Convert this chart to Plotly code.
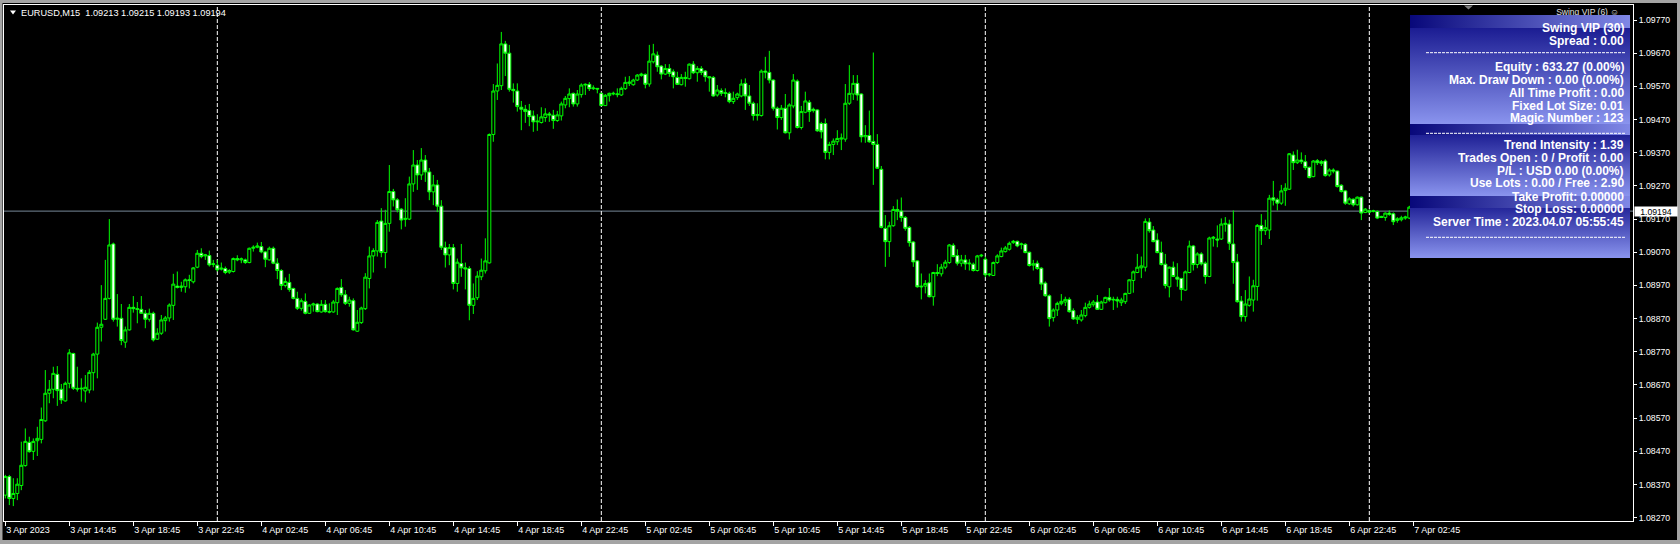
import plotly.graph_objects as go

# ---------------- data (EURUSD M15, bars from 3 Apr 2023 10:45) ----------------
open_ = [
1.08338,1.08394,1.08328,1.08343,1.08367,1.08427,1.08497,1.08470,1.08502,1.08506,
1.08562,1.08645,1.08657,1.08702,1.08657,1.08622,1.08675,1.08765,1.08660,1.08658,
1.08652,1.08655,1.08707,1.08763,1.08844,1.08868,1.08931,1.09095,1.08868,1.08871,
1.08799,1.08836,1.08904,1.08900,1.08898,1.08886,1.08868,1.08886,1.08808,1.08826,
1.08864,1.08872,1.08910,1.08968,1.08964,1.08966,1.08987,1.08981,1.09025,1.09067,
1.09059,1.09060,1.09033,1.09031,1.09019,1.09021,1.09010,1.09012,1.09051,1.09047,
1.09047,1.09039,1.09082,1.09085,1.09087,1.09071,1.09047,1.09082,1.09037,1.09015,
1.08970,1.08979,1.08961,1.08931,1.08901,1.08922,1.08886,1.08911,1.08914,1.08890,
1.08913,1.08891,1.08890,1.08918,1.08964,1.08942,1.08916,1.08924,1.08832,1.08858,
1.08900,1.08991,1.09059,1.09074,1.09164,1.09069,1.09157,1.09253,1.09228,1.09200,
1.09169,1.09170,1.09276,1.09333,1.09303,1.09348,1.09312,1.09252,1.09273,1.09209,
1.09084,1.09062,1.09084,1.08976,1.09036,1.09023,1.09021,1.08910,1.08933,1.08996,
1.09014,1.09038,1.09425,1.09556,1.09572,1.09698,1.09670,1.09561,1.09556,1.09507,
1.09501,1.09497,1.09481,1.09463,1.09461,1.09476,1.09487,1.09483,1.09467,1.09481,
1.09514,1.09533,1.09549,1.09517,1.09545,1.09574,1.09576,1.09563,1.09564,1.09549,
1.09512,1.09542,1.09547,1.09545,1.09544,1.09563,1.09579,1.09575,1.09589,1.09603,
1.09606,1.09577,1.09644,1.09664,1.09631,1.09607,1.09624,1.09614,1.09597,1.09575,
1.09597,1.09593,1.09637,1.09611,1.09624,1.09616,1.09599,1.09597,1.09544,1.09557,
1.09551,1.09549,1.09524,1.09536,1.09541,1.09579,1.09541,1.09519,1.09482,1.09482,
1.09616,1.09612,1.09589,1.09504,1.09476,1.09504,1.09430,1.09511,1.09586,1.09446,
1.09492,1.09522,1.09501,1.09499,1.09458,1.09458,1.09371,1.09395,1.09403,1.09411,
1.09411,1.09519,1.09547,1.09579,1.09547,1.09418,1.09422,1.09404,1.09395,1.09320,
1.09142,1.09102,1.09150,1.09199,1.09194,1.09175,1.09145,1.09101,1.09044,1.08968,
1.08968,1.08978,1.08936,1.09009,1.09005,1.09025,1.09039,1.09091,1.09060,1.09037,
1.09047,1.09035,1.09034,1.09015,1.09059,1.09049,1.09002,1.09000,1.09039,1.09057,
1.09072,1.09079,1.09099,1.09103,1.09093,1.09094,1.09070,1.09031,1.09037,1.09022,
1.08977,1.08939,1.08873,1.08896,1.08915,1.08920,1.08928,1.08894,1.08868,1.08866,
1.08879,1.08904,1.08912,1.08920,1.08898,1.08918,1.08934,1.08926,1.08928,1.08918,
1.08921,1.08946,1.08985,1.09009,1.09023,1.09025,1.09161,1.09137,1.09107,1.09069,
1.09034,1.08966,1.09025,1.08995,1.08991,1.08956,1.09009,1.09089,1.09033,1.09065,
1.09037,1.08997,1.09112,1.09110,1.09110,1.09154,1.09155,1.09095,1.09041,1.08923,
1.08876,1.08910,1.08926,1.08967,1.09151,1.09135,1.09137,1.09234,1.09228,1.09218,
1.09256,1.09260,1.09363,1.09340,1.09348,1.09343,1.09326,1.09298,1.09346,1.09343,
1.09345,1.09303,1.09318,1.09315,1.09272,1.09255,1.09216,1.09230,1.09213,1.09236,
1.09190,1.09195,1.09193,1.09193,1.09178,1.09175,1.09188,1.09186,1.09166,1.09168,
1.09173,1.09173,1.09213]

high_ = [
1.08399,1.08399,1.08389,1.08389,1.08499,1.08539,1.08514,1.08509,1.08544,1.08602,
1.08715,1.08685,1.08725,1.08727,1.08673,1.08680,1.08778,1.08767,1.08725,1.08690,
1.08700,1.08715,1.08767,1.08858,1.08971,1.09047,1.09170,1.09099,1.08944,1.08914,
1.08846,1.08914,1.08938,1.08920,1.08938,1.08896,1.08900,1.08891,1.08841,1.08881,
1.08878,1.08916,1.09005,1.09012,1.08981,1.08991,1.09002,1.09025,1.09077,1.09082,
1.09065,1.09075,1.09047,1.09047,1.09039,1.09027,1.09019,1.09054,1.09061,1.09054,
1.09051,1.09084,1.09091,1.09099,1.09101,1.09074,1.09087,1.09087,1.09052,1.09019,
1.08994,1.09005,1.08963,1.08951,1.08931,1.08946,1.08913,1.08918,1.08916,1.08926,
1.08926,1.08916,1.08926,1.08964,1.08989,1.08956,1.08936,1.08931,1.08896,1.08906,
1.09007,1.09087,1.09082,1.09167,1.09203,1.09198,1.09333,1.09261,1.09233,1.09203,
1.09233,1.09298,1.09378,1.09348,1.09384,1.09363,1.09324,1.09303,1.09288,1.09227,
1.09102,1.09095,1.09095,1.09051,1.09095,1.09039,1.09028,1.08976,1.09013,1.09051,
1.09112,1.09428,1.09577,1.09639,1.09734,1.09707,1.09695,1.09579,1.09579,1.09526,
1.09514,1.09517,1.09497,1.09486,1.09507,1.09504,1.09493,1.09499,1.09496,1.09524,
1.09541,1.09564,1.09551,1.09559,1.09579,1.09579,1.09583,1.09573,1.09564,1.09551,
1.09547,1.09551,1.09554,1.09564,1.09569,1.09599,1.09601,1.09593,1.09607,1.09611,
1.09609,1.09695,1.09698,1.09675,1.09634,1.09637,1.09637,1.09621,1.09614,1.09607,
1.09614,1.09639,1.09646,1.09631,1.09631,1.09619,1.09601,1.09601,1.09574,1.09564,
1.09564,1.09554,1.09554,1.09551,1.09591,1.09594,1.09574,1.09524,1.09519,1.09621,
1.09659,1.09677,1.09591,1.09509,1.09514,1.09547,1.09519,1.09607,1.09591,1.09511,
1.09554,1.09529,1.09506,1.09501,1.09463,1.09473,1.09403,1.09413,1.09438,1.09428,
1.09577,1.09634,1.09604,1.09604,1.09549,1.09453,1.09497,1.09672,1.09426,1.09330,
1.09182,1.09162,1.09209,1.09229,1.09235,1.09179,1.09149,1.09104,1.09046,1.09006,
1.08986,1.09006,1.09011,1.09034,1.09035,1.09047,1.09095,1.09097,1.09079,1.09062,
1.09062,1.09049,1.09039,1.09062,1.09065,1.09057,1.09007,1.09042,1.09064,1.09084,
1.09089,1.09102,1.09107,1.09105,1.09099,1.09097,1.09072,1.09047,1.09045,1.09025,
1.08982,1.08943,1.08901,1.08921,1.08944,1.08936,1.08934,1.08901,1.08881,1.08896,
1.08918,1.08924,1.08926,1.08941,1.08924,1.08936,1.08962,1.08936,1.08936,1.08933,
1.08948,1.08989,1.09015,1.09065,1.09057,1.09172,1.09173,1.09149,1.09127,1.09102,
1.09065,1.09027,1.09042,1.09037,1.08993,1.09015,1.09105,1.09092,1.09070,1.09070,
1.09042,1.09117,1.09119,1.09151,1.09172,1.09176,1.09168,1.09196,1.09065,1.08938,
1.08956,1.08997,1.08987,1.09155,1.09185,1.09168,1.09243,1.09285,1.09234,1.09273,
1.09278,1.09369,1.09374,1.09379,1.09371,1.09363,1.09328,1.09348,1.09351,1.09348,
1.09350,1.09323,1.09323,1.09316,1.09275,1.09258,1.09236,1.09232,1.09238,1.09238,
1.09203,1.09200,1.09198,1.09196,1.09180,1.09190,1.09196,1.09190,1.09176,1.09180,
1.09180,1.09210,1.09215]

low_ = [
1.08328,1.08308,1.08305,1.08323,1.08353,1.08424,1.08466,1.08444,1.08456,1.08494,
1.08559,1.08615,1.08630,1.08607,1.08613,1.08620,1.08660,1.08655,1.08650,1.08620,
1.08617,1.08645,1.08653,1.08690,1.08801,1.08866,1.08928,1.08861,1.08846,1.08790,
1.08782,1.08834,1.08888,1.08856,1.08884,1.08841,1.08861,1.08801,1.08806,1.08821,
1.08831,1.08861,1.08866,1.08961,1.08951,1.08948,1.08961,1.08976,1.09022,1.09052,
1.09047,1.09027,1.09025,1.09012,1.09015,1.09004,1.09005,1.09009,1.09043,1.09037,
1.09035,1.09037,1.09072,1.09082,1.09067,1.09025,1.09045,1.09034,1.08989,1.08956,
1.08964,1.08951,1.08928,1.08896,1.08894,1.08883,1.08884,1.08891,1.08889,1.08888,
1.08888,1.08886,1.08888,1.08881,1.08936,1.08911,1.08906,1.08834,1.08830,1.08854,
1.08896,1.08961,1.09009,1.09057,1.09055,1.09022,1.09132,1.09208,1.09190,1.09139,
1.09147,1.09167,1.09252,1.09258,1.09288,1.09282,1.09227,1.09212,1.09191,1.09077,
1.09024,1.09031,1.08958,1.08951,1.08996,1.08958,1.08865,1.08884,1.08926,1.08986,
1.09006,1.09036,1.09403,1.09529,1.09559,1.09601,1.09554,1.09521,1.09494,1.09438,
1.09460,1.09450,1.09433,1.09436,1.09458,1.09463,1.09463,1.09442,1.09463,1.09467,
1.09504,1.09507,1.09509,1.09509,1.09536,1.09544,1.09556,1.09559,1.09549,1.09511,
1.09511,1.09524,1.09543,1.09537,1.09541,1.09559,1.09571,1.09572,1.09586,1.09599,
1.09564,1.09569,1.09639,1.09614,1.09591,1.09604,1.09599,1.09564,1.09574,1.09573,
1.09569,1.09591,1.09607,1.09584,1.09604,1.09584,1.09554,1.09539,1.09539,1.09541,
1.09537,1.09519,1.09517,1.09529,1.09537,1.09499,1.09511,1.09467,1.09467,1.09479,
1.09594,1.09579,1.09497,1.09440,1.09469,1.09428,1.09410,1.09504,1.09443,1.09440,
1.09489,1.09463,1.09491,1.09433,1.09413,1.09350,1.09350,1.09363,1.09393,1.09378,
1.09403,1.09514,1.09529,1.09527,1.09401,1.09400,1.09400,1.09273,1.09321,1.09142,
1.09026,1.09056,1.09147,1.09167,1.09162,1.09135,1.09087,1.09026,1.08963,1.08928,
1.08946,1.08934,1.08909,1.08998,1.08997,1.09019,1.09035,1.09055,1.09030,1.09027,
1.09017,1.09015,1.09012,1.09012,1.09055,1.08995,1.08997,1.08999,1.09035,1.09055,
1.09069,1.09075,1.09095,1.09085,1.09079,1.09067,1.09027,1.09015,1.09017,1.08956,
1.08936,1.08846,1.08861,1.08878,1.08910,1.08908,1.08888,1.08866,1.08854,1.08861,
1.08874,1.08900,1.08906,1.08896,1.08896,1.08916,1.08921,1.08896,1.08903,1.08908,
1.08914,1.08944,1.08948,1.09007,1.08992,1.09012,1.09129,1.09100,1.09067,1.09030,
1.08961,1.08934,1.08995,1.08966,1.08924,1.08954,1.09007,1.09015,1.09022,1.09030,
1.08975,1.08995,1.09087,1.09085,1.09107,1.09132,1.09077,1.08975,1.08918,1.08861,
1.08861,1.08906,1.08891,1.08924,1.09092,1.09122,1.09110,1.09211,1.09196,1.09213,
1.09210,1.09258,1.09318,1.09336,1.09336,1.09318,1.09293,1.09296,1.09333,1.09330,
1.09298,1.09298,1.09308,1.09265,1.09250,1.09213,1.09213,1.09208,1.09211,1.09167,
1.09188,1.09188,1.09190,1.09170,1.09173,1.09165,1.09180,1.09152,1.09159,1.09163,
1.09168,1.09170,1.09193]

close_ = [
1.08394,1.08328,1.08343,1.08371,1.08428,1.08500,1.08469,1.08500,1.08509,1.08566,
1.08645,1.08657,1.08705,1.08653,1.08625,1.08675,1.08767,1.08660,1.08658,1.08660,
1.08663,1.08708,1.08763,1.08844,1.08853,1.08931,1.09092,1.08868,1.08871,1.08804,
1.08836,1.08904,1.08900,1.08898,1.08886,1.08868,1.08886,1.08806,1.08826,1.08866,
1.08872,1.08911,1.08974,1.08964,1.08968,1.08987,1.08985,1.09023,1.09067,1.09057,
1.09062,1.09032,1.09035,1.09017,1.09022,1.09009,1.09015,1.09051,1.09047,1.09050,
1.09039,1.09082,1.09085,1.09089,1.09071,1.09049,1.09082,1.09037,1.09015,1.08970,
1.08982,1.08958,1.08931,1.08901,1.08924,1.08886,1.08911,1.08914,1.08891,1.08913,
1.08891,1.08890,1.08920,1.08961,1.08942,1.08916,1.08926,1.08836,1.08859,1.08902,
1.08995,1.09059,1.09075,1.09160,1.09069,1.09157,1.09253,1.09228,1.09198,1.09167,
1.09172,1.09276,1.09333,1.09303,1.09348,1.09312,1.09252,1.09273,1.09209,1.09085,
1.09062,1.09084,1.08976,1.09040,1.09023,1.09020,1.08910,1.08931,1.08998,1.09016,
1.09044,1.09425,1.09556,1.09573,1.09698,1.09670,1.09561,1.09557,1.09509,1.09501,
1.09494,1.09479,1.09463,1.09465,1.09478,1.09487,1.09484,1.09467,1.09484,1.09517,
1.09534,1.09547,1.09517,1.09547,1.09574,1.09576,1.09563,1.09565,1.09562,1.09512,
1.09543,1.09549,1.09549,1.09547,1.09564,1.09582,1.09583,1.09589,1.09604,1.09607,
1.09576,1.09646,1.09668,1.09629,1.09607,1.09624,1.09609,1.09599,1.09576,1.09597,
1.09594,1.09637,1.09611,1.09624,1.09612,1.09599,1.09596,1.09541,1.09559,1.09549,
1.09549,1.09524,1.09534,1.09547,1.09577,1.09541,1.09519,1.09482,1.09485,1.09616,
1.09613,1.09589,1.09504,1.09476,1.09504,1.09430,1.09514,1.09589,1.09446,1.09494,
1.09526,1.09494,1.09497,1.09436,1.09433,1.09371,1.09395,1.09405,1.09413,1.09414,
1.09519,1.09549,1.09579,1.09544,1.09418,1.09422,1.09403,1.09395,1.09323,1.09145,
1.09102,1.09150,1.09199,1.09194,1.09175,1.09142,1.09099,1.09041,1.08966,1.08966,
1.08976,1.08936,1.09009,1.09006,1.09025,1.09040,1.09092,1.09057,1.09037,1.09047,
1.09035,1.09037,1.09015,1.09059,1.09061,1.09002,1.09004,1.09039,1.09059,1.09074,
1.09083,1.09097,1.09103,1.09089,1.09095,1.09069,1.09030,1.09035,1.09021,1.08974,
1.08939,1.08870,1.08896,1.08916,1.08922,1.08928,1.08891,1.08869,1.08874,1.08881,
1.08904,1.08914,1.08920,1.08898,1.08920,1.08934,1.08926,1.08928,1.08923,1.08926,
1.08946,1.08987,1.09011,1.09025,1.09029,1.09163,1.09135,1.09102,1.09069,1.09033,
1.08970,1.09025,1.08997,1.08989,1.08958,1.09011,1.09089,1.09033,1.09065,1.09035,
1.08997,1.09113,1.09115,1.09107,1.09155,1.09157,1.09097,1.09039,1.08921,1.08876,
1.08914,1.08929,1.08969,1.09151,1.09135,1.09144,1.09233,1.09227,1.09218,1.09255,
1.09263,1.09367,1.09340,1.09348,1.09343,1.09325,1.09295,1.09345,1.09340,1.09338,
1.09301,1.09318,1.09315,1.09268,1.09253,1.09218,1.09231,1.09213,1.09236,1.09188,
1.09200,1.09191,1.09195,1.09173,1.09175,1.09188,1.09184,1.09162,1.09171,1.09174,
1.09176,1.09206,1.09194]

time_labels = ["3 Apr 2023", "3 Apr 14:45", "3 Apr 18:45", "3 Apr 22:45", "4 Apr 02:45",
               "4 Apr 06:45", "4 Apr 10:45", "4 Apr 14:45", "4 Apr 18:45", "4 Apr 22:45",
               "5 Apr 02:45", "5 Apr 06:45", "5 Apr 10:45", "5 Apr 14:45", "5 Apr 18:45",
               "5 Apr 22:45", "6 Apr 02:45", "6 Apr 06:45", "6 Apr 10:45", "6 Apr 14:45",
               "6 Apr 18:45", "6 Apr 22:45", "7 Apr 02:45"]
label_bars = [0, 16, 32, 48, 64, 80, 96, 112, 128, 144, 160, 176, 192, 208, 224,
              240, 256, 272, 288, 304, 320, 336, 352]
day_start_bars = [53, 149, 245, 341]      # 4, 5, 6, 7 Apr 00:00
price_ticks = ["1.08270", "1.08370", "1.08470", "1.08570", "1.08670", "1.08770", "1.08870",
               "1.08970", "1.09070", "1.09170", "1.09270", "1.09370", "1.09470", "1.09570",
               "1.09670", "1.09770"]
title_text = "EURUSD,M15  1.09213 1.09215 1.09193 1.09194"
panel_lines_1 = ["Swing VIP (30)", "Spread : 0.00"]
panel_lines_2 = ["Equity : 633.27 (0.00%)", "Max. Draw Down : 0.00 (0.00%)",
                 "All Time Profit : 0.00", "Fixed Lot Size: 0.01", "Magic Number : 123"]
panel_lines_3 = ["Trend Intensity : 1.39", "Trades Open : 0 / Profit : 0.00",
                 "P/L : USD 0.00 (0.00%)", "Use Lots : 0.00 / Free : 2.90",
                 "Take Profit: 0.00000", "Stop Loss: 0.00000",
                 "Server Time : 2023.04.07 05:55:45"]

# ---------------- layout geometry ----------------
W, H = 1680, 544
ML, MR, MT, MB = 4, 47, 5, 23
PW, PH = W - ML - MR, H - MT - MB
FONT = "Liberation Sans"
LIME = "#00ff00"

def px(X):   # pixel -> paper x
    return (X - ML) / PW

def py(Y):   # pixel -> paper y
    return (H - MB - Y) / PH

n = len(close_)
xs = list(range(n))

fig = go.Figure()
fig.add_trace(go.Candlestick(
    x=xs, open=open_, high=high_, low=low_, close=close_,
    increasing=dict(line=dict(color=LIME, width=1), fillcolor="#000000"),
    decreasing=dict(line=dict(color=LIME, width=1), fillcolor="#ffffff"),
    whiskerwidth=0, hoverinfo="skip", showlegend=False))

# ---- overlay pixel-space axes for the indicator panel ----
def poly(xv, yv, **kw):
    fig.add_trace(go.Scatter(x=xv, y=yv, xaxis="x2", yaxis="y2", hoverinfo="skip",
                             showlegend=False, **kw))

# label partly hidden under panel
poly([1619], [12.5], mode="text", text=["Swing VIP (6) \u263A"], textposition="middle left",
     textfont=dict(color="#e0e0e0", size=8.5, family=FONT))
# chart shift marker and title triangle
poly([1464, 1473, 1468.5, 1464], [5.5, 5.5, 9.5, 5.5], mode="none", fill="toself",
     fillcolor="#808080")
poly([10, 16, 13, 10], [10.5, 10.5, 14.5, 10.5], mode="none", fill="toself",
     fillcolor="#ffffff")

DARK = "#0c0c86"
LIGHT = "#8a94ee"
PX0, PX1 = 1410, 1630
blocks = [(15, 124, 28), (124, 196, 135), (196, 258, 208)]
for (y0, y1, yh) in blocks:
    poly([PX0, PX1, PX1, PX0, PX0], [y0, y0, y1, y1, y0], mode="none", fill="toself",
         fillgradient=dict(type="vertical", colorscale=[[0, DARK], [1, LIGHT]],
                           start=y0, stop=y1))
    poly([PX0, PX1, PX1, PX0, PX0], [y0, y0, yh, yh, y0], mode="none", fill="toself",
         fillgradient=dict(type="horizontal", colorscale=[[0, "#08087a"], [1, "#8088e6"]],
                           start=PX0, stop=PX1))

annotations = []
shapes = []

# panel texts
line_y = [27.7, 41, 66.7, 80, 92.7, 106, 118.3, 145, 157.7, 171, 183.3, 196.7, 209.3, 222.3]
all_lines = panel_lines_1 + panel_lines_2 + panel_lines_3
for txt, yy in zip(all_lines, line_y):
    annotations.append(dict(x=1626, y=yy, xref="x2", yref="y2", xanchor="right",
                            yanchor="middle", text=txt, showarrow=False,
                            font=dict(color="white", size=12, family=FONT, weight=700)))
for yy in [52.7, 133.3, 237.3]:
    shapes.append(dict(type="line", xref="x2", yref="y2", x0=1426, x1=1625, y0=yy, y1=yy,
                       line=dict(color="white", width=1, dash="3px,1px"), layer="above"))

# title
annotations.append(dict(x=19, y=12.7, xref="x2", yref="y2", xanchor="left", yanchor="middle",
                        text=title_text, showarrow=False,
                        font=dict(color="white", size=9.2, family=FONT)))

# bid line + day separators
shapes.append(dict(type="line", xref="paper", yref="y", x0=0, x1=1, y0=close_[-1],
                   y1=close_[-1], line=dict(color="#778899", width=1), layer="below"))
for b in day_start_bars:
    shapes.append(dict(type="line", xref="x", yref="paper", x0=b, x1=b, y0=0, y1=1,
                       line=dict(color="white", width=1, dash="4px,2px"), layer="below"))

# last price label
annotations.append(dict(x=px(1634), y=close_[-1], xref="paper", yref="y", xanchor="left",
                        yanchor="middle", text="%.5f" % close_[-1], showarrow=False,
                        bgcolor="white", width=42, height=9, borderpad=0, align="center",
                        font=dict(color="black", size=8.7, family=FONT)))

# window frame (gray)
GR = "#a4a4a4"
for (a, b, c, d) in [(0, 0, W, 3), (0, 540, W, H), (0, 0, 2.5, H), (1677, 0, W, H)]:
    shapes.append(dict(type="rect", xref="paper", yref="paper", x0=px(a), x1=px(c),
                       y0=py(d), y1=py(b), fillcolor=GR, line=dict(width=0), layer="above"))

# price range: pixel rows of the plot
y_top = 1.09770 + 15 / 33180
y_bot = 1.09770 - 501 / 33180
x_left = -0.33
x_right = x_left + PW / 4.0

fig.update_layout(
    width=W, height=H, autosize=False,
    margin=dict(l=ML, r=MR, t=MT, b=MB, pad=0),
    paper_bgcolor="black", plot_bgcolor="black", showlegend=False,
    boxgap=0.25, boxgroupgap=0,
    xaxis=dict(range=[x_left, x_right], rangeslider=dict(visible=False), showgrid=False,
               zeroline=False, showline=True, linecolor="white", linewidth=1, mirror=True,
               ticks="outside", ticklen=4, tickcolor="white", tickwidth=1,
               tickvals=label_bars, ticktext=time_labels, ticklabelposition="outside right",
               tickfont=dict(color="white", size=9, family=FONT), fixedrange=True),
    yaxis=dict(range=[y_bot, y_top], side="right", showgrid=False, zeroline=False,
               showline=True, linecolor="white", linewidth=1, mirror=True,
               ticks="outside", ticklen=3, tickcolor="white", tickwidth=1,
               tickvals=[float(t) for t in price_ticks], ticktext=price_ticks,
               tickfont=dict(color="white", size=8.7, family=FONT), fixedrange=True),
    xaxis2=dict(overlaying="x", anchor="y2", range=[ML, W - MR], visible=False,
                fixedrange=True),
    yaxis2=dict(overlaying="y", anchor="x2", range=[H - MB, MT], visible=False,
                fixedrange=True),
    annotations=annotations, shapes=shapes,
)

fig.write_html("out.html", config={"displayModeBar": False, "staticPlot": True},
               post_script="document.body.style.margin='0';document.body.style.overflow='hidden';")
